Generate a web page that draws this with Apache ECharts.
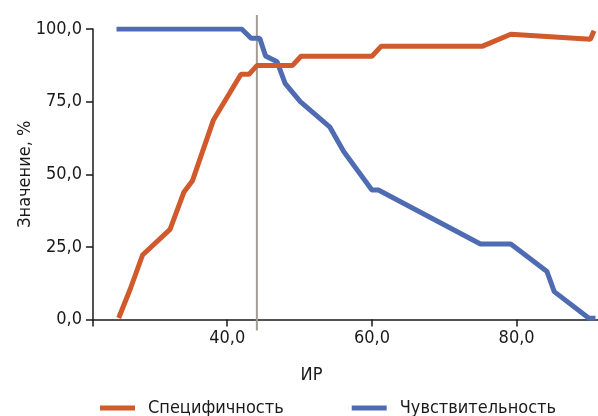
<!DOCTYPE html>
<html>
<head>
<meta charset="utf-8">
<script src="https://cdn.jsdelivr.net/npm/echarts@6/dist/echarts.min.js"></script>
<style>
  html, body { margin: 0; padding: 0; background: #fff; }
  #chart { width: 598px; height: 416px; }
</style>
</head>
<body>
<div id="chart"></div>
<script>
// данные (ИР, %)
const specX = [25.0, 26.6, 28.3, 32.1, 34.0, 35.2, 38.1, 41.9, 43.0, 44.1, 49.0, 50.2, 60.0, 61.3, 75.3, 79.2, 90.2, 90.7];
const specY = [0.5, 10.5, 22.2, 31.0, 43.8, 47.8, 68.7, 84.4, 84.4, 87.4, 87.4, 90.6, 90.6, 94.1, 94.1, 98.2, 96.5, 99.4];

const sensX = [24.7, 42.0, 43.3, 44.5, 45.3, 46.9, 48.0, 50.1, 54.2, 56.1, 60.0, 60.9, 75.0, 79.2, 84.2, 85.2, 90.0, 90.9];
const sensY = [100, 100, 96.8, 96.8, 90.7, 88.7, 81.3, 75.0, 66.2, 57.8, 44.6, 44.6, 26.0, 26.0, 16.5, 9.6, 0.4, 0.4];

const cutoffX = 44.1;           // вертикальная линия порога
const cutoffY = [-3.8, 104.8];

const xMin = 21.45;
const xMax = 91.25;
const xTicks = [40, 60, 80];

const FONT = '"DejaVu Sans Condensed", "Liberation Sans Narrow", sans-serif';
const fmt = (v) => v.toFixed(1).replace('.', ',');

const chart = echarts.init(document.getElementById('chart'));

const option = {
  animation: false,
  textStyle: { fontFamily: FONT, color: '#1a1a1a' },
  grid: { left: 93, right: 0, top: 29, bottom: 96.5, containLabel: false },
  legend: {
    left: 95,
    top: 394,
    itemWidth: 35,
    itemHeight: 5,
    itemGap: 68,
    icon: 'rect',
    data: ['Специфичность', 'Чувствительность'],
    textStyle: { fontFamily: FONT, fontSize: 18, color: '#1a1a1a', padding: [0, 0, 0, 8] }
  },
  xAxis: {
    type: 'value',
    min: xMin,
    max: xMax,
    name: 'ИР',
    nameLocation: 'middle',
    nameGap: 47,
    nameTextStyle: { fontFamily: FONT, fontSize: 18, color: '#1a1a1a', padding: [0, 68, 0, 0] },
    splitLine: { show: false },
    axisLine: { lineStyle: { color: '#1a1a1a', width: 1.5 } },
    axisTick: { customValues: [xMin].concat(xTicks), length: 7, lineStyle: { color: '#1a1a1a', width: 1.5 } },
    axisLabel: { customValues: xTicks, formatter: fmt, fontSize: 18, color: '#1a1a1a', margin: 10, fontFamily: FONT }
  },
  yAxis: {
    type: 'value',
    min: 0,
    max: 100,
    interval: 25,
    name: 'Значение, %',
    nameLocation: 'middle',
    nameGap: 59,
    nameMoveOverlap: false,
    nameTextStyle: { fontFamily: FONT, fontSize: 18, color: '#1a1a1a' },
    splitLine: { show: false },
    axisLine: { show: true, lineStyle: { color: '#1a1a1a', width: 1.5 } },
    axisTick: { show: true, length: 7, lineStyle: { color: '#1a1a1a', width: 1.5 } },
    axisLabel: { formatter: fmt, fontSize: 18, color: '#1a1a1a', margin: 11, fontFamily: FONT }
  },
  series: [
    {
      name: 'порог',
      type: 'line',
      data: cutoffY.map((y) => [cutoffX, y]),
      clip: false,
      symbol: 'none',
      silent: true,
      lineStyle: { color: '#a39d93', width: 2 },
      z: 1
    },
    {
      name: 'Специфичность',
      type: 'line',
      data: specX.map((x, i) => [x, specY[i]]),
      symbol: 'none',
      itemStyle: { color: '#d05a2b' },
      lineStyle: { color: '#d05a2b', width: 5 },
      z: 3
    },
    {
      name: 'Чувствительность',
      type: 'line',
      data: sensX.map((x, i) => [x, sensY[i]]),
      symbol: 'none',
      itemStyle: { color: '#4f6cb3' },
      lineStyle: { color: '#4f6cb3', width: 5 },
      z: 2
    }
  ]
};

chart.setOption(option);
</script>
</body>
</html>
